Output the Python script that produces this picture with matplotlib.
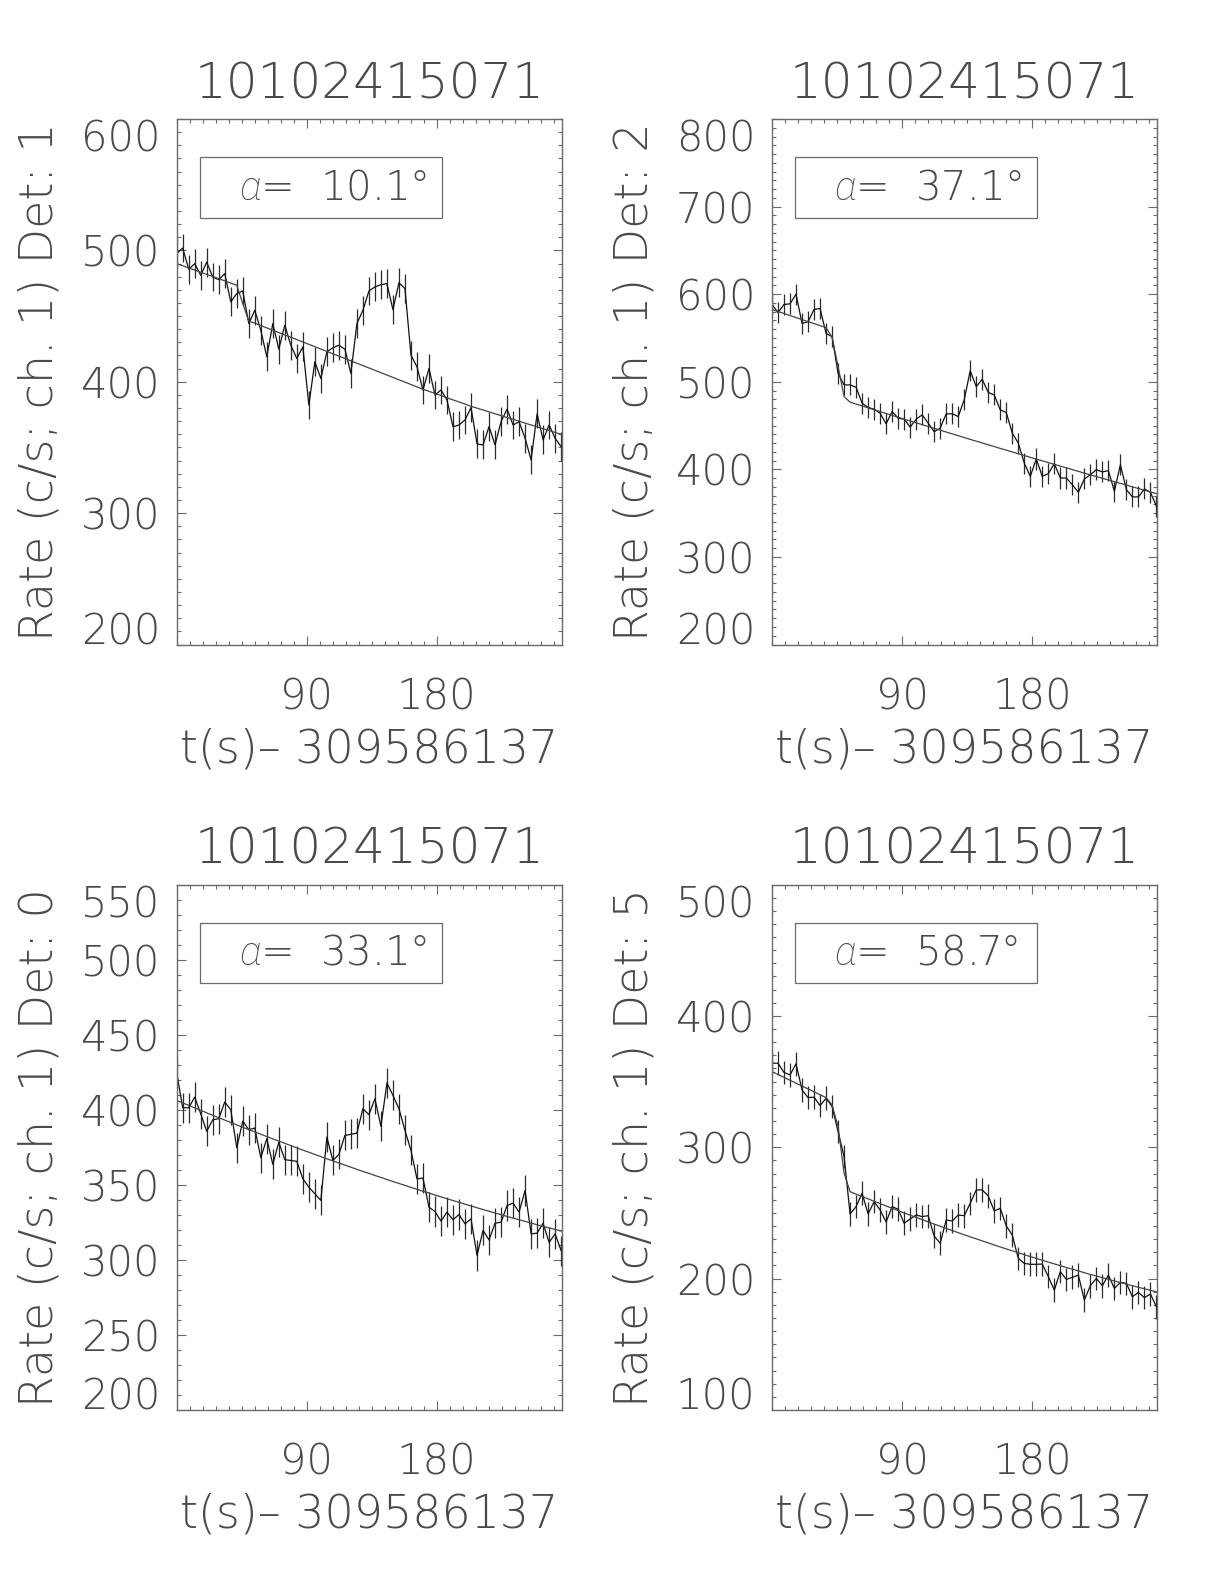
import numpy as np
import matplotlib
matplotlib.use('Agg')
import matplotlib.pyplot as plt
from matplotlib.patches import Rectangle
from matplotlib.ticker import MultipleLocator

# thin grey text, close to the vector font of the original plot
plt.rcParams['font.family'] = ['DejaVu Sans']
plt.rcParams['font.weight'] = 'ultralight'
plt.rcParams['axes.titleweight'] = 'ultralight'
plt.rcParams['axes.labelweight'] = 'ultralight'
plt.rcParams['mathtext.fontset'] = 'custom'
plt.rcParams['mathtext.it'] = 'Roboto:italic:light'

TXT = '#4a4a4a'
AXC = '#6a6a6a'

# observation / time reference
obs_id = '10102415071'
t_ref = 309586137
t_step = 4.16

# light curves (c/s), one value per time bin
rate_det1 = [497.5, 501.8, 485.6, 489.9, 481.0, 491.1, 479.7, 477.7, 482.3, 460.8,
             467.1, 469.1, 444.3, 454.4, 439.2, 419.0, 444.3, 424.8, 443.0, 427.8,
             417.7, 426.6, 382.3, 415.2, 402.5, 422.8, 425.8, 427.8, 424.8, 406.3,
             444.3, 454.4, 469.1, 472.2, 473.9, 474.7, 454.9, 475.4, 470.9, 420.3,
             411.4, 393.7, 410.1, 389.9, 393.7, 386.1, 365.8, 367.1, 370.9, 380.3,
             352.7, 351.9, 365.8, 351.9, 369.6, 379.2, 367.1, 369.6, 357.0, 340.5,
             375.6, 355.7, 367.1, 357.0, 350.6]
fit_det1 = [489.9, 488.3, 486.6, 485.0, 483.3, 481.7, 480.1, 478.4, 476.8, 475.1,
            473.5, 459.5, 446.1, 444.6, 442.8, 441.0, 439.2, 437.4, 435.6, 433.9,
            432.1, 430.3, 428.5, 426.7, 424.9, 423.1, 421.3, 419.5, 417.7, 415.9,
            414.1, 412.3, 410.5, 408.7, 406.9, 405.1, 403.3, 401.5, 399.7, 397.9,
            396.1, 394.3, 392.7, 391.1, 389.5, 387.8, 386.2, 384.6, 383.0, 381.3,
            379.9, 378.5, 377.1, 375.6, 374.2, 372.8, 371.4, 370.0, 368.5, 367.1,
            365.7, 364.3, 362.9, 361.4, 360.0]

rate_det2 = [588.2, 579.1, 588.2, 589.0, 600.0, 566.6, 568.5, 582.5, 583.7, 555.2,
             551.4, 509.7, 496.4, 496.4, 493.7, 475.5, 470.6, 468.7, 464.1, 452.0,
             466.0, 458.4, 457.3, 448.2, 457.3, 462.2, 452.8, 442.9, 447.1, 463.4,
             463.4, 460.3, 479.3, 512.7, 494.5, 502.8, 487.7, 485.0, 467.9, 464.9,
             441.4, 430.0, 407.2, 392.0, 411.8, 392.0, 395.1, 406.5, 390.1, 390.1,
             382.5, 373.8, 389.0, 393.9, 399.6, 397.0, 398.5, 375.0, 405.3, 376.8,
             368.5, 368.5, 377.6, 373.8, 357.9]
fit_det2 = [582.5, 580.2, 577.9, 575.6, 573.3, 571.0, 568.7, 566.4, 564.1, 561.8,
            551.0, 517.3, 483.1, 476.7, 474.5, 472.4, 470.2, 468.0, 465.9, 463.7,
            461.6, 459.5, 457.3, 455.2, 453.1, 451.0, 448.9, 446.8, 444.7, 442.6,
            440.5, 438.4, 436.3, 434.2, 432.2, 430.1, 428.0, 426.0, 423.9, 421.9,
            419.8, 417.8, 415.8, 413.7, 411.7, 409.7, 407.7, 405.7, 403.7, 401.7,
            399.7, 397.7, 395.7, 393.7, 391.8, 389.8, 387.8, 385.9, 383.9, 382.0,
            380.0, 378.1, 376.2, 374.2, 372.3]

rate_det0 = [424.4, 401.3, 401.3, 408.4, 397.3, 385.6, 393.3, 394.0, 405.1, 400.0,
             374.7, 392.4, 386.7, 387.8, 368.0, 380.7, 363.6, 378.4, 366.7, 366.2,
             365.6, 354.0, 348.4, 344.0, 339.6, 381.8, 366.2, 370.2, 382.9, 383.6,
             384.4, 400.7, 396.7, 407.3, 388.9, 417.8, 409.6, 400.7, 386.2, 372.9,
             354.0, 354.4, 335.1, 332.2, 325.8, 331.8, 326.7, 330.2, 324.0, 327.3,
             302.9, 319.6, 313.3, 324.4, 325.1, 336.2, 337.8, 331.8, 346.2, 317.3,
             317.8, 324.4, 311.6, 317.3, 306.2]
fit_det0 = [406.2, 404.5, 402.9, 401.2, 399.6, 397.9, 396.3, 394.7, 393.1, 391.5,
            389.9, 388.3, 386.8, 385.2, 383.7, 382.1, 380.6, 379.1, 377.6, 376.1,
            374.6, 373.1, 371.7, 370.2, 368.8, 367.3, 365.9, 364.5, 363.1, 361.7,
            360.3, 358.9, 357.6, 356.2, 354.9, 353.5, 352.2, 350.9, 349.6, 348.3,
            347.0, 345.7, 344.5, 343.2, 342.0, 340.7, 339.5, 338.3, 337.1, 335.9,
            334.7, 333.5, 332.4, 331.2, 330.1, 328.9, 327.8, 326.7, 325.6, 324.5,
            323.4, 322.3, 321.3, 320.2, 319.2]

rate_det5 = [364.0, 364.0, 356.9, 355.1, 363.5, 343.7, 337.8, 338.1, 331.7, 337.3,
             331.0, 311.9, 292.9, 249.2, 254.8, 265.0, 249.2, 258.6, 252.3, 243.1,
             254.8, 252.8, 242.1, 245.4, 248.4, 247.2, 247.9, 232.4, 226.9, 244.6,
             243.9, 248.4, 247.9, 257.3, 267.5, 267.5, 262.9, 251.5, 253.5, 240.1,
             233.2, 215.4, 211.6, 210.9, 210.9, 211.1, 201.5, 191.3, 205.3, 199.4,
             201.0, 202.7, 183.7, 194.6, 200.2, 194.6, 202.7, 192.6, 197.1, 196.4,
             186.2, 189.5, 185.5, 188.3, 178.6]
fit_det5 = [357.6, 355.4, 353.2, 351.0, 348.8, 346.6, 344.4, 342.2, 340.0, 337.8,
            332.3, 315.7, 280.2, 266.2, 264.3, 262.5, 260.7, 258.9, 257.1, 255.3,
            253.5, 251.8, 250.0, 248.3, 246.6, 244.9, 243.2, 241.5, 239.9, 238.2,
            236.6, 235.0, 233.4, 231.8, 230.3, 228.7, 227.2, 225.6, 224.1, 222.6,
            221.2, 219.7, 218.2, 216.8, 215.4, 214.0, 212.6, 211.2, 209.9, 208.5,
            207.2, 205.9, 204.5, 203.2, 202.0, 200.7, 199.5, 198.2, 197.0, 195.8,
            194.6, 193.4, 192.3, 191.1, 190.0]

# panel order: top-left, top-right, bottom-left, bottom-right
detectors = [1, 2, 0, 5]
alphas = [10.1, 37.1, 33.1, 58.7]
rates = [rate_det1, rate_det2, rate_det0, rate_det5]
fits = [fit_det1, fit_det2, fit_det0, fit_det5]
errors = [11, 12, 10, 9]
ylims = [(200, 600), (200, 800), (200, 550), (100, 500)]
ymajor = [100, 100, 50, 100]

W, H = 1224, 1584
lefts = [176.7, 772.0]
tops = [119.0, 884.5]
pw, ph = 384.8, 525.5


def draw_panel(ax, det, alpha, rate, fit, err, ylim, ystep):
	t = np.arange(len(rate)) * t_step
	ax.errorbar(t, rate, yerr=err, fmt='none', ecolor='#2a2a2a', elinewidth=0.9, capsize=0)
	ax.plot(t, rate, color='#111111', lw=0.9)
	ax.plot(t, fit, color='#444444', lw=0.9)

	ax.set_xlim(0, 266.5)
	ax.set_ylim(*ylim)
	ax.set_xticks([90, 180])
	ax.xaxis.set_minor_locator(MultipleLocator(9))
	ax.set_yticks(np.arange(ylim[0], ylim[1] + 1, ystep))
	ax.yaxis.set_minor_locator(MultipleLocator(10))

	ax.tick_params(which='both', direction='in', top=True, right=True, colors=AXC, labelcolor=TXT)
	ax.tick_params(which='major', length=6.5, width=0.8, labelsize=30)
	ax.tick_params(axis='x', which='major', pad=23)
	ax.tick_params(axis='y', which='major', pad=12)
	ax.tick_params(which='minor', length=3.2, width=0.8)
	for sp in ax.spines.values():
		sp.set_color(AXC)
		sp.set_linewidth(1.0)

	# end labels stay inside the axis height, as in the original
	ylabels = ax.get_yticklabels()
	ylabels[0].set_va('baseline')
	ylabels[-1].set_va('top')

	ax.set_title(obs_id, fontsize=36, color=TXT, pad=15, fontweight='ultralight')
	ax.set_xlabel('t(s)\u2013 {}'.format(t_ref), fontsize=33, color=TXT, labelpad=7,
		fontweight='ultralight')
	ax.set_ylabel('Rate (c/s; ch. 1) Det: {}'.format(det), fontsize=33, color=TXT, labelpad=14,
		fontweight='ultralight')

	# the angle box in the upper left corner
	ax.add_patch(Rectangle((0.061, 0.812), 0.628, 0.115, transform=ax.transAxes,
		fill=False, edgecolor=AXC, lw=0.9))
	ax.text(0.162, 0.869, r'$\alpha$=  {:.1f}°'.format(alpha), transform=ax.transAxes,
		fontsize=29, color=TXT, ha='left', va='center', fontweight='ultralight')


fig = plt.figure(figsize=(W / 100, H / 100), dpi=100)
for i in range(4):
	left = lefts[i % 2]
	top = tops[i // 2]
	ax = fig.add_axes([left / W, 1 - (top + ph) / H, pw / W, ph / H])
	draw_panel(ax, detectors[i], alphas[i], rates[i], fits[i], errors[i], ylims[i], ymajor[i])

fig.savefig('out.png', dpi=100, facecolor='white')
